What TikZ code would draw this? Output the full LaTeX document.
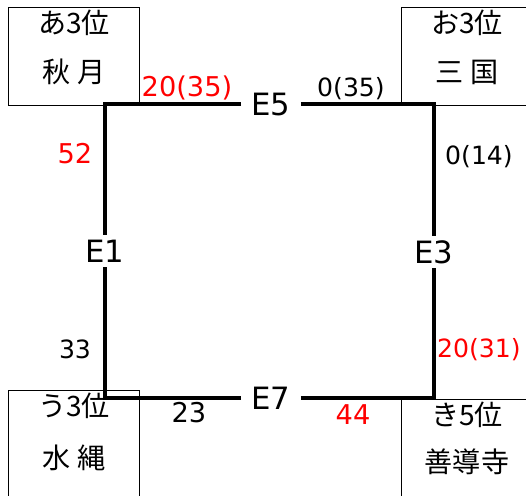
\documentclass[tikz,border=0pt]{standalone}
\usepackage{fontspec}
\setmainfont{DejaVu Sans}
\newfontfamily\jpfont{Noto Sans CJK JP}
\tikzset{
  stazione/.style={draw, line width=0.6pt, anchor=north west, minimum width=2.62cm, inner sep=0pt},
  nome/.style={font=\jpfont\fontsize{16}{16}\selectfont, inner sep=0pt},
  incrocio/.style={font=\fontsize{17.5}{18}\selectfont, text height=0.44cm, text depth=0cm, inner xsep=0.2cm, inner ysep=0.1cm},
  valore/.style={font=\fontsize{14.3}{15}\selectfont, inner sep=0pt},
  grande/.style={font=\fontsize{15.5}{16}\selectfont},
  anello/.style={line width=2pt},
}
\begin{document}
\begin{tikzpicture}[x=0.02cm, y=-0.02cm]
		\useasboundingbox (0,0) rectangle (526,495);
		\clip (0,0) rectangle (526,495);

		% stazioni
		\node[stazione, minimum height=1.96cm] (akizuki) at (8,7) {};
		\node[stazione, minimum height=1.96cm] (mikuni) at (401,7) {};
		\node[stazione, minimum height=2.3cm] (mizunawa) at (8,390) {};
		\node[stazione, minimum height=2.2cm] (zendoji) at (401,399) {};

		\node[nome] (akizuki1) at (74,23) {あ3位};
		\node[nome] (akizuki2) at (74,72) {秋 月};
		\node[nome] (mikuni1) at (467,23) {お3位};
		\node[nome] (mikuni2) at (467,72) {三 国};
		\node[nome] (mizunawa1) at (74,406) {う3位};
		\node[nome] (mizunawa2) at (74,458) {水 縄};
		\node[nome] (zendoji1) at (467,415) {き5位};
		\node[nome] (zendoji2) at (467,462) {善導寺};

		% incroci
		\node[incrocio] (e5) at (271,104) {E5};
		\node[incrocio] (e1) at (105,251) {E1};
		\node[incrocio] (e3) at (434,252) {E3};
		\node[incrocio] (e7) at (271,398) {E7};

		\draw[anello] (e5) -| (e1);
		\draw[anello] (e5) -| (e3);
		\draw[anello] (e7) -| (e1);
		\draw[anello] (e7) -| (e3);

		% valori
		\node[valore, grande, red] (v1) at (187,88) {20(35)};
		\node[valore] (v2) at (351,89) {0(35)};
		\node[valore, grande, red] (v3) at (75,154) {52};
		\node[valore] (v4) at (479,157) {0(14)};
		\node[valore] (v5) at (75,349) {33};
		\node[valore, red] (v6) at (479,350) {20(31)};
		\node[valore, grande] (v7) at (189,413) {23};
		\node[valore, grande, red] (v8) at (353,415) {44};

	\end{tikzpicture}
\end{document}
